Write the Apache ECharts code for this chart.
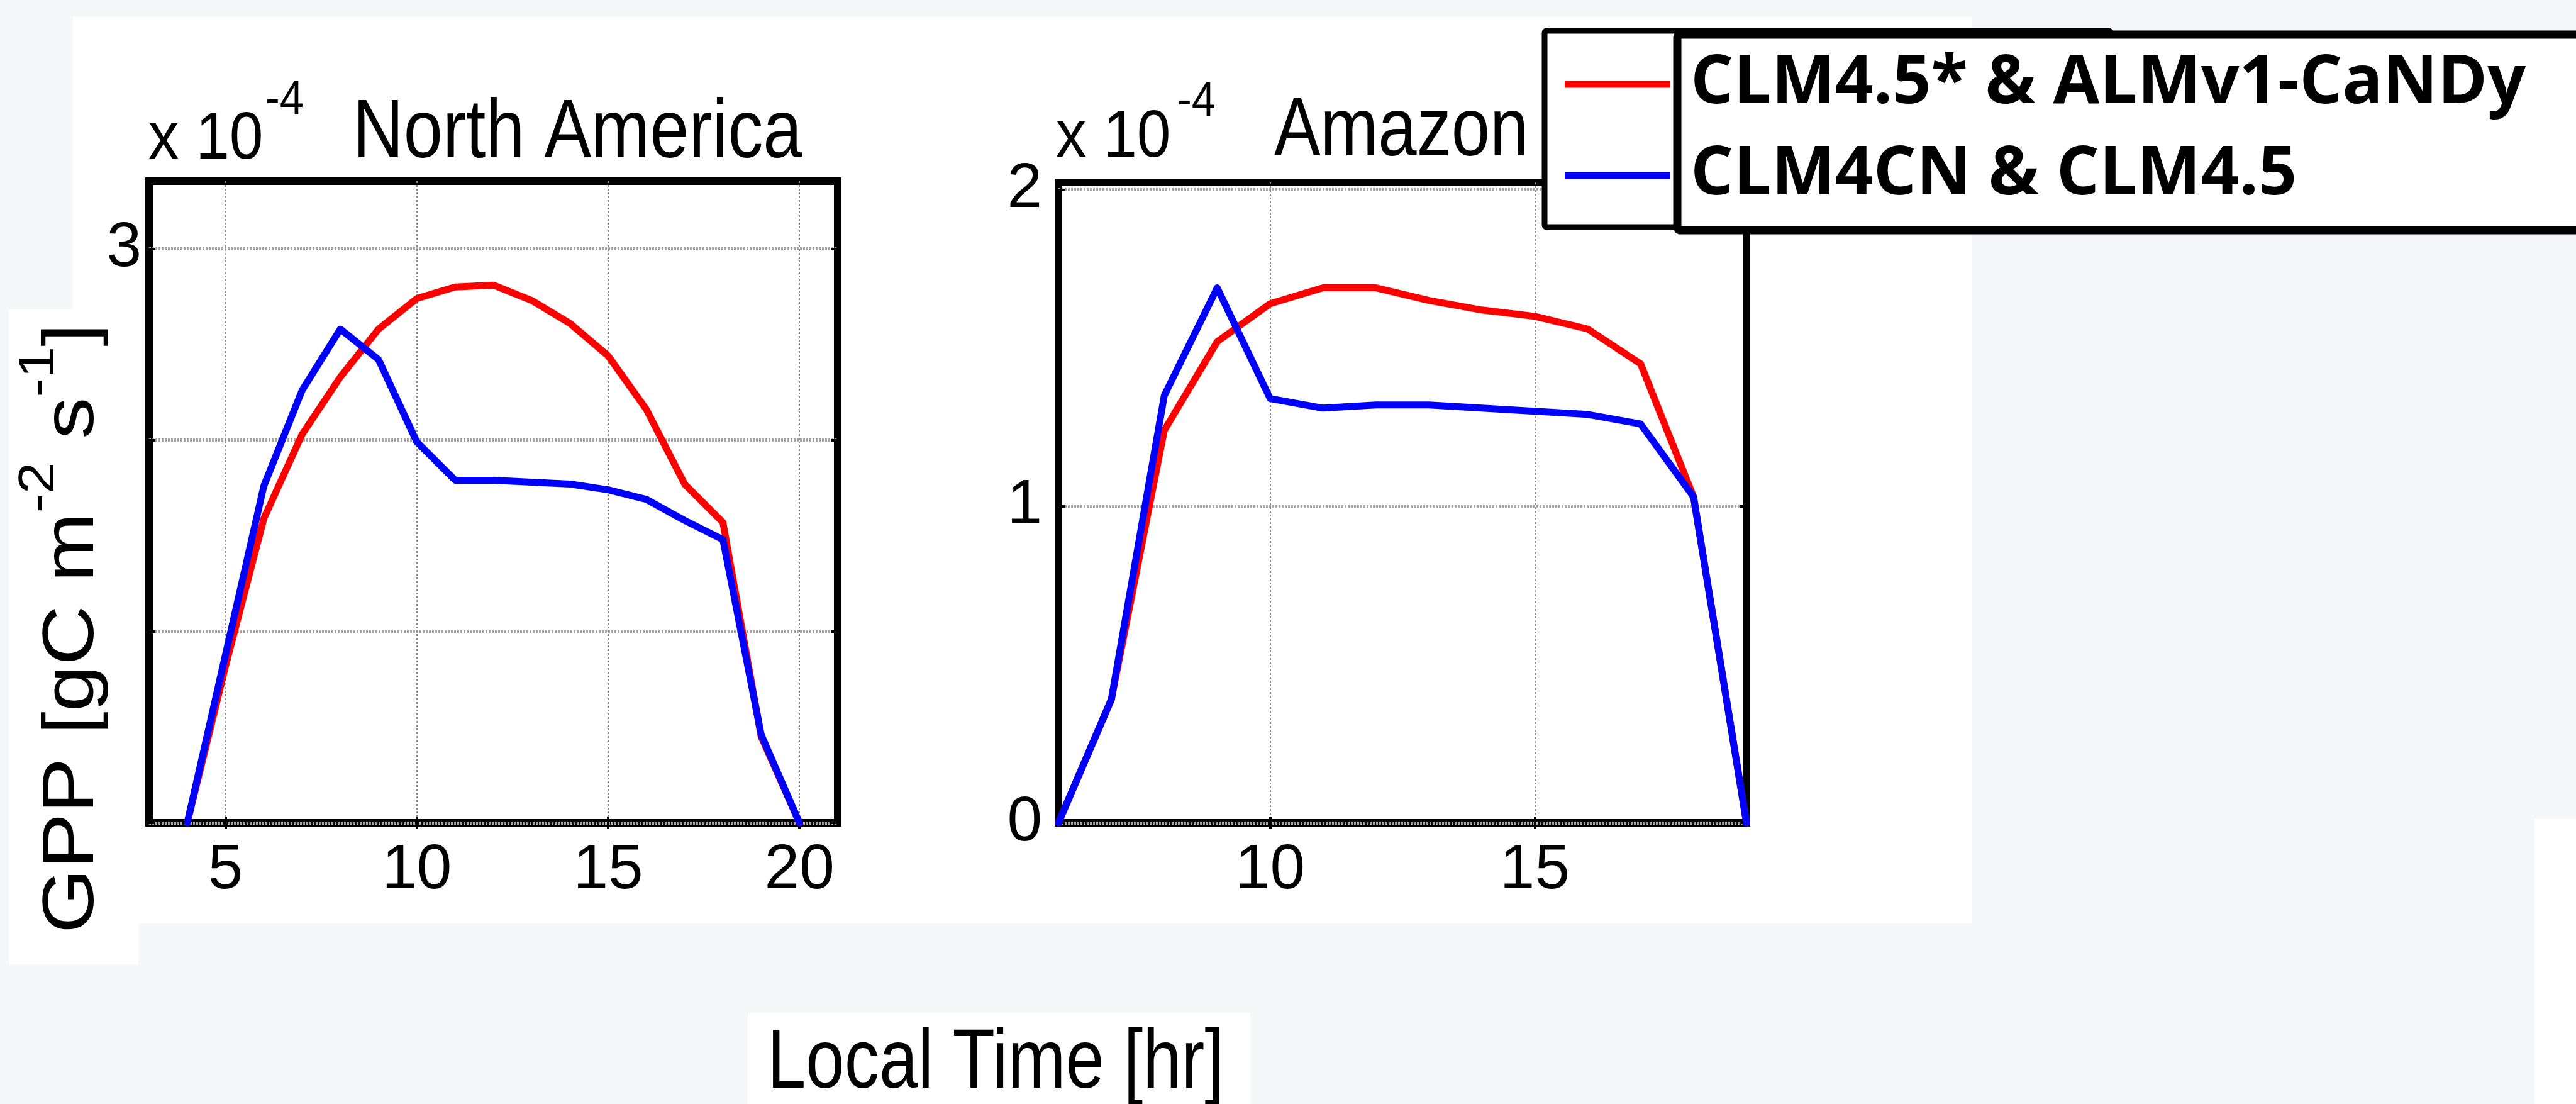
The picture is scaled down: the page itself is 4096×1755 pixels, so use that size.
<!DOCTYPE html>
<html><head><meta charset="utf-8">
<script src="https://cdn.jsdelivr.net/npm/echarts@6/dist/echarts.min.js"></script>
<style>html,body{margin:0;padding:0;background:#f6f7f9}#c{width:4096px;height:1755px}</style>
</head><body><div id="c"></div>
<script>
// ---- data ----
const seriesNames = ['CLM4.5* & ALMv1-CaNDy', 'CLM4CN & CLM4.5'];
const naHours = [4,5,6,7,8,9,10,11,12,13,14,15,16,17,18,19,20];
const naRed   = [0,0.82,1.59,2.03,2.33,2.58,2.74,2.80,2.81,2.73,2.61,2.44,2.16,1.77,1.57,0.45,0];
const naBlue  = [0,0.88,1.76,2.26,2.58,2.42,1.99,1.79,1.79,1.78,1.77,1.74,1.69,1.58,1.48,0.46,0];
const amHours = [6,7,8,9,10,11,12,13,14,15,16,17,18,19];
const amRed   = [0,0.39,1.24,1.52,1.64,1.69,1.69,1.65,1.62,1.60,1.56,1.45,1.03,0];
const amBlue  = [0,0.39,1.35,1.69,1.34,1.31,1.32,1.32,1.31,1.30,1.29,1.26,1.03,0];
const naXTicks = [5,10,15,20];
const naYTicks = [0,1,2,3];
const naYLabels = [3];
const amXTicks = [10,15];
const amYTicks = [0,1,2];
const titles = ['North America', 'Amazon'];
const expText = 'x 10';
const expSup = '-4';
const xName = 'Local Time [hr]';

// ---- build ----
const SANS = "'Liberation Sans',Arial,Helvetica,sans-serif";
const pairs = (xs, ys) => xs.map((x, i) => [x, ys[i]]);
const colors = ['#ff0000', '#0000ff'];
const TICK = {show: true, inside: true, length: 10, lineStyle: {color: '#000', width: 4}};

function mainX(gi, min, max, ticks) {
  return {
    type: 'value', gridIndex: gi, min: min, max: max, position: 'bottom',
    axisLine: {show: false},
    axisTick: Object.assign({customValues: ticks}, TICK),
    axisLabel: {show: true, customValues: ticks, margin: 26, color: '#000', fontSize: 100, fontFamily: SANS},
    splitLine: {show: true, lineStyle: {color: '#8a8a8a', width: 2, type: [3, 3]}}
  };
}
function topX(gi, min, max, ticks) {
  return {
    type: 'value', gridIndex: gi, min: min, max: max, position: 'top',
    axisLine: {show: false},
    axisTick: Object.assign({customValues: ticks}, TICK),
    axisLabel: {show: false}, splitLine: {show: false}
  };
}
function mainY(gi, min, max, ticks, labels, margin) {
  return {
    type: 'value', gridIndex: gi, min: min, max: max, position: 'left',
    axisLine: {show: false},
    axisTick: Object.assign({customValues: ticks}, TICK),
    axisLabel: {show: true, customValues: labels, margin: margin, color: '#000', fontSize: 100, fontFamily: SANS},
    splitLine: {show: true, lineStyle: {color: '#a6a6a6', width: 5, type: [3, 2]}}
  };
}
function rightY(gi, min, max, ticks) {
  return {
    type: 'value', gridIndex: gi, min: min, max: max, position: 'right',
    axisLine: {show: false},
    axisTick: Object.assign({customValues: ticks}, TICK),
    axisLabel: {show: false}, splitLine: {show: false}
  };
}
function lineSeries(name, xi, yi, data, color) {
  return {
    type: 'line', name: name, xAxisIndex: xi, yAxisIndex: yi, data: data,
    showSymbol: false, symbol: 'none', color: color,
    lineStyle: {color: color, width: 11, join: 'round', cap: 'round'}, z: 2
  };
}
function txt(x, y, text, size, sx, align) {
  return {type: 'text', x: x, y: y, scaleX: sx, silent: true, z: 5,
    style: {text: text, font: size + 'px ' + SANS, fill: '#000', align: align || 'left', verticalAlign: 'middle'}};
}
function rect(x, y, w, h, fill, z, stroke, lw, r) {
  return {type: 'rect', silent: true, z: z,
    shape: {x: x, y: y, width: w, height: h, r: r || 0},
    style: {fill: fill, stroke: stroke || null, lineWidth: lw || 0}};
}

const option = {
  backgroundColor: '#f6f7f9',
  animation: false,
  grid: [
    {left: 237, top: 288, width: 1095, height: 1020, show: true, borderColor: '#000', borderWidth: 12, backgroundColor: 'transparent'},
    {left: 1683, top: 290, width: 1094, height: 1018, show: true, borderColor: '#000', borderWidth: 12, backgroundColor: 'transparent'}
  ],
  xAxis: [
    mainX(0, 3, 21, naXTicks), topX(0, 3, 21, naXTicks),
    mainX(1, 6, 19, amXTicks), topX(1, 6, 19, amXTicks)
  ],
  yAxis: [
    mainY(0, 0, 3.353, naYTicks, naYLabels, 12), rightY(0, 0, 3.353, naYTicks),
    mainY(1, 0, 2.023, amYTicks, amYTicks, 26), rightY(1, 0, 2.023, amYTicks)
  ],
  legend: {
    orient: 'vertical', left: 2483, top: 62, padding: 5,
    itemWidth: 168, itemHeight: 11, itemGap: 11, icon: 'rect',
    selectedMode: false, z: 8,
    data: seriesNames,
    textStyle: {fontFamily: "'Open Sans', 'Noto Sans', sans-serif", fontWeight: 'bold', fontSize: 107,
      lineHeight: 110, color: '#000', padding: [24, 0, 0, 27]}
  },
  series: [
    lineSeries(seriesNames[0], 0, 0, pairs(naHours, naRed), colors[0]),
    lineSeries(seriesNames[1], 0, 0, pairs(naHours, naBlue), colors[1]),
    lineSeries(seriesNames[0], 2, 2, pairs(amHours, amRed), colors[0]),
    lineSeries(seriesNames[1], 2, 2, pairs(amHours, amBlue), colors[1])
  ],
  graphic: [
    // white paper regions
    rect(116, 27, 3020, 1441, '#ffffff', -10),
    rect(14, 492, 206, 1041, '#ffffff', -10),
    rect(1189, 1610, 799, 145, '#ffffff', -10),
    rect(4030, 1302, 66, 453, '#ffffff', -10),
    // legend boxes
    rect(2456, 49, 900, 312, '#ffffff', 3, '#000', 9, 3),
    rect(2667, 55, 1600, 311, '#ffffff', 4, '#000', 13, 5),
    // titles
    txt(236, 223, expText, 105, 0.92),
    txt(422, 160, expSup, 78, 0.88),
    txt(561, 214, titles[0], 132, 0.847),
    txt(1679, 220, expText, 105, 0.92),
    txt(1872, 162, expSup, 78, 0.88),
    txt(2026, 211, titles[1], 132, 0.835),
    // x axis name
    txt(1583, 1692, xName, 134, 0.824, 'center'),
    // y axis name (rotated)
    {type: 'text', x: 116, y: 999, rotation: Math.PI / 2, scaleX: 1.15, silent: true, z: 5,
      style: {text: '{m|GPP [gC m}{s|-2}{m| s}{s|-1}{m|]}', fill: '#000', align: 'center', verticalAlign: 'middle',
        rich: {
          m: {fontSize: 115, fontFamily: SANS, fill: '#000'},
          s: {fontSize: 79, fontFamily: SANS, fill: '#000', padding: [0, 0, 106, 0]}
        }}}
  ]
};

const chart = echarts.init(document.getElementById('c'), null, {renderer: 'canvas'});
chart.setOption(option);
</script></body></html>
